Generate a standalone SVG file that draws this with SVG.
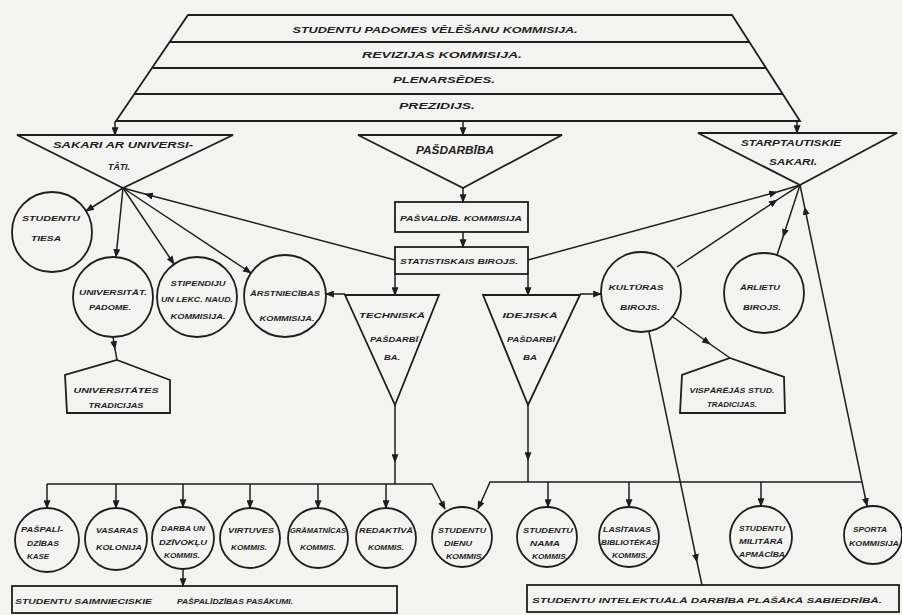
<svg xmlns="http://www.w3.org/2000/svg" width="902" height="615" viewBox="0 0 902 615">
<defs>
<marker id="ah" viewBox="0 0 10 8" refX="9" refY="4" markerWidth="9" markerHeight="7" orient="auto" markerUnits="userSpaceOnUse"><path d="M0,0 L10,4 L0,8 z" fill="#1e1e1e"/></marker>
<style>
.sh{fill:none;stroke:#1e1e1e;stroke-width:1.8}
.ln{fill:none;stroke:#1e1e1e;stroke-width:1.5}
.ae{marker-end:url(#ah)}
.am{marker-mid:url(#ah)}
text{font-family:"Liberation Sans",Arial,sans-serif;font-weight:bold;font-style:italic;fill:#1e1e1e;text-anchor:middle;font-size:8px}
.s9{font-size:9px}
.s10{font-size:10px}
.s6{font-size:6.5px}
.st{text-anchor:start}
</style>
</defs>
<rect x="0" y="0" width="902" height="615" fill="#f3f3f1"/>

<g id="council">
<polygon class="sh" points="188,15 732,15 800,121 116,121"/>
<line class="sh" x1="170" y1="42" x2="749" y2="42"/>
<line class="sh" x1="153" y1="68" x2="766" y2="68"/>
<line class="sh" x1="135" y1="94" x2="783" y2="94"/>
<text class="s9" x="435" y="33" textLength="285" lengthAdjust="spacingAndGlyphs">STUDENTU PADOMES VĒLĒŠANU KOMMISIJA.</text>
<text class="s9" x="442" y="58" textLength="160" lengthAdjust="spacingAndGlyphs">REVIZIJAS KOMMISIJA.</text>
<text class="s9" x="444" y="83" textLength="102" lengthAdjust="spacingAndGlyphs">PLENARSĒDES.</text>
<text class="s9" x="437" y="109" textLength="76" lengthAdjust="spacingAndGlyphs">PREZIDIJS.</text>
</g>

<g id="sakari-univ">
<polygon class="sh" points="17,135 233,135 123,188"/>
<text class="s9" x="123" y="148" textLength="140" lengthAdjust="spacingAndGlyphs">SAKARI AR UNIVERSI-</text>
<text class="s9" x="119" y="170" textLength="22" lengthAdjust="spacingAndGlyphs">TĀTI.</text>
</g>

<g id="pasdarbiba">
<polygon class="sh" points="358,135 562,135 463,188"/>
<text class="s10" x="455" y="154" textLength="78" lengthAdjust="spacingAndGlyphs">PAŠDARBĪBA</text>
</g>

<g id="starptautiskie">
<polygon class="sh" points="698,133 897,133 800,185"/>
<text class="s9" x="791" y="146" textLength="100" lengthAdjust="spacingAndGlyphs">STARPTAUTISKIE</text>
<text class="s9" x="793" y="165" textLength="48" lengthAdjust="spacingAndGlyphs">SAKARI.</text>
</g>

<g id="pasvaldib">
<rect class="sh" x="395" y="202" width="133" height="30"/>
<text x="461" y="221" textLength="122" lengthAdjust="spacingAndGlyphs">PAŠVALDĪB. KOMMISIJA</text>
</g>

<g id="statistiskais">
<rect class="sh" x="395" y="247" width="133" height="27"/>
<text x="459" y="264" textLength="118" lengthAdjust="spacingAndGlyphs">STATISTISKAIS BIROJS.</text>
</g>

<g id="studentu-tiesa">
<circle class="sh" cx="52" cy="232" r="40"/>
<text x="51" y="221" textLength="58" lengthAdjust="spacingAndGlyphs">STUDENTU</text>
<text x="46" y="241" textLength="30" lengthAdjust="spacingAndGlyphs">TIESA</text>
</g>

<g id="univ-padome">
<circle class="sh" cx="113" cy="297" r="40"/>
<text x="113" y="295" textLength="68" lengthAdjust="spacingAndGlyphs">UNIVERSITĀT.</text>
<text x="110" y="310" textLength="42" lengthAdjust="spacingAndGlyphs">PADOME.</text>
</g>

<g id="stipendiju">
<circle class="sh" cx="197" cy="297" r="40"/>
<text x="198" y="286" textLength="55" lengthAdjust="spacingAndGlyphs">STIPENDIJU</text>
<text x="197" y="302" textLength="72" lengthAdjust="spacingAndGlyphs">UN LEKC. NAUD.</text>
<text x="198" y="319" textLength="55" lengthAdjust="spacingAndGlyphs">KOMMISIJA.</text>
</g>

<g id="arstniecibas">
<circle class="sh" cx="285" cy="296" r="41"/>
<text x="285" y="296" textLength="70" lengthAdjust="spacingAndGlyphs">ĀRSTNIECĪBAS</text>
<text x="287" y="321" textLength="55" lengthAdjust="spacingAndGlyphs">KOMMISIJA.</text>
</g>

<g id="techniska">
<polygon class="sh" points="345,295 439,295 395,405"/>
<text x="392" y="318" textLength="66" lengthAdjust="spacingAndGlyphs">TECHNISKĀ</text>
<text x="394" y="342" textLength="48" lengthAdjust="spacingAndGlyphs">PAŠDARBĪ</text>
<text x="392" y="360" textLength="16" lengthAdjust="spacingAndGlyphs">BA.</text>
</g>

<g id="idejiska">
<polygon class="sh" points="483,295 580,295 528,405"/>
<text x="530" y="318" textLength="55" lengthAdjust="spacingAndGlyphs">IDEJISKĀ</text>
<text x="531" y="342" textLength="48" lengthAdjust="spacingAndGlyphs">PAŠDARBĪ</text>
<text x="530" y="360" textLength="14" lengthAdjust="spacingAndGlyphs">BA</text>
</g>

<g id="kulturas">
<circle class="sh" cx="641" cy="292" r="40"/>
<text x="636" y="290" textLength="55" lengthAdjust="spacingAndGlyphs">KULTŪRAS</text>
<text x="640" y="310" textLength="40" lengthAdjust="spacingAndGlyphs">BIROJS.</text>
</g>

<g id="arlietu">
<circle class="sh" cx="764" cy="293" r="40"/>
<text x="760" y="290" textLength="40" lengthAdjust="spacingAndGlyphs">ĀRLIETU</text>
<text x="762" y="310" textLength="38" lengthAdjust="spacingAndGlyphs">BIROJS.</text>
</g>

<g id="univ-tradicijas">
<polygon class="sh" points="117,360 170,380 170,413 67,413 65,375"/>
<text x="116" y="393" textLength="85" lengthAdjust="spacingAndGlyphs">UNIVERSITĀTES</text>
<text x="116" y="408" textLength="55" lengthAdjust="spacingAndGlyphs">TRADICIJAS</text>
</g>

<g id="visparejas">
<polygon class="sh" points="730,358 784,377 785,413 680,413 682,375"/>
<text x="732" y="393" textLength="85" lengthAdjust="spacingAndGlyphs">VISPĀRĒJĀS STUD.</text>
<text x="732" y="407" textLength="50" lengthAdjust="spacingAndGlyphs">TRADICIJAS.</text>
</g>

<g id="paspalidzibas-kase">
<circle class="sh" cx="47" cy="540" r="32"/>
<text class="s6" x="42" y="532" textLength="42" lengthAdjust="spacingAndGlyphs">PAŠPALĪ-</text>
<text class="s6" x="43" y="546" textLength="32" lengthAdjust="spacingAndGlyphs">DZĪBAS</text>
<text class="s6" x="38" y="559" textLength="22" lengthAdjust="spacingAndGlyphs">KASE</text>
</g>
<g id="vasaras-kolonija">
<circle class="sh" cx="116" cy="539" r="31"/>
<text class="s6" x="117" y="533" textLength="42" lengthAdjust="spacingAndGlyphs">VASARAS</text>
<text class="s6" x="119" y="550" textLength="46" lengthAdjust="spacingAndGlyphs">KOLONIJA</text>
</g>
<g id="darba-dzivoklu">
<circle class="sh" cx="183" cy="538" r="31"/>
<text class="s6" x="183" y="531" textLength="44" lengthAdjust="spacingAndGlyphs">DARBA UN</text>
<text class="s6" x="183" y="545" textLength="48" lengthAdjust="spacingAndGlyphs">DZĪVOKĻU</text>
<text class="s6" x="182" y="558" textLength="36" lengthAdjust="spacingAndGlyphs">KOMMIS.</text>
</g>
<g id="virtuves">
<circle class="sh" cx="250" cy="538" r="30"/>
<text class="s6" x="251" y="533" textLength="46" lengthAdjust="spacingAndGlyphs">VIRTUVES</text>
<text class="s6" x="249" y="550" textLength="36" lengthAdjust="spacingAndGlyphs">KOMMIS.</text>
</g>
<g id="gramatnicas">
<circle class="sh" cx="318" cy="538" r="30"/>
<text class="s6" x="318" y="533" textLength="56" lengthAdjust="spacingAndGlyphs">GRĀMATNĪCAS</text>
<text class="s6" x="318" y="550" textLength="36" lengthAdjust="spacingAndGlyphs">KOMMIS.</text>
</g>
<g id="redaktiva">
<circle class="sh" cx="386" cy="538" r="30"/>
<text class="s6" x="386" y="533" textLength="54" lengthAdjust="spacingAndGlyphs">REDAKTĪVĀ</text>
<text class="s6" x="386" y="550" textLength="36" lengthAdjust="spacingAndGlyphs">KOMMIS.</text>
</g>
<g id="studentu-dienu">
<circle class="sh" cx="462" cy="537" r="30"/>
<text class="s6" x="462" y="533" textLength="48" lengthAdjust="spacingAndGlyphs">STUDENTU</text>
<text class="s6" x="458" y="546" textLength="28" lengthAdjust="spacingAndGlyphs">DIENU</text>
<text class="s6" x="465" y="559" textLength="38" lengthAdjust="spacingAndGlyphs">KOMMIS.</text>
</g>
<g id="studentu-nama">
<circle class="sh" cx="547" cy="537" r="30"/>
<text class="s6" x="548" y="533" textLength="50" lengthAdjust="spacingAndGlyphs">STUDENTU</text>
<text class="s6" x="545" y="546" textLength="30" lengthAdjust="spacingAndGlyphs">NAMA</text>
<text class="s6" x="550" y="559" textLength="36" lengthAdjust="spacingAndGlyphs">KOMMIS.</text>
</g>
<g id="lasitavas">
<circle class="sh" cx="629" cy="537" r="30"/>
<text class="s6" x="627" y="532" textLength="48" lengthAdjust="spacingAndGlyphs">LASĪTAVAS</text>
<text class="s6" x="629" y="545" textLength="56" lengthAdjust="spacingAndGlyphs">BIBLIOTĒKAS</text>
<text class="s6" x="630" y="558" textLength="36" lengthAdjust="spacingAndGlyphs">KOMMIS.</text>
</g>
<g id="militara">
<circle class="sh" cx="761" cy="537" r="31"/>
<text class="s6" x="762" y="531" textLength="46" lengthAdjust="spacingAndGlyphs">STUDENTU</text>
<text class="s6" x="761" y="544" textLength="44" lengthAdjust="spacingAndGlyphs">MILITĀRĀ</text>
<text class="s6" x="762" y="557" textLength="46" lengthAdjust="spacingAndGlyphs">APMĀCĪBA</text>
</g>
<g id="sporta">
<circle class="sh" cx="873" cy="535" r="29"/>
<text class="s6" x="870" y="532" textLength="34" lengthAdjust="spacingAndGlyphs">SPORTA</text>
<text class="s6" x="874" y="546" textLength="50" lengthAdjust="spacingAndGlyphs">KOMMISIJA</text>
</g>

<g id="saimnieciskie">
<rect class="sh" x="12" y="586" width="385" height="27"/>
<text class="st" x="15" y="604" textLength="137" lengthAdjust="spacingAndGlyphs">STUDENTU SAIMNIECISKIE</text>
<text class="st" x="177" y="604" textLength="116" lengthAdjust="spacingAndGlyphs">PAŠPALĪDZĪBAS PASĀKUMI.</text>
</g>
<g id="intelektuala">
<rect class="sh" x="527" y="585" width="372" height="27"/>
<text class="st" x="532" y="603" textLength="350" lengthAdjust="spacingAndGlyphs">STUDENTU INTELEKTUĀLĀ DARBĪBA PLAŠĀKĀ SABIEDRĪBĀ.</text>
</g>

<g id="connectors">
<path class="ln ae" d="M115,121 L115,135"/>
<path class="ln ae" d="M463,121 L463,135"/>
<path class="ln ae" d="M797,121 L797,133"/>
<path class="ln ae" d="M123,188 L86,211"/>
<path class="ln ae" d="M123,188 L116,257"/>
<path class="ln ae" d="M123,188 L174,264"/>
<path class="ln ae" d="M123,188 L251,273"/>
<path class="ln am" d="M395,260 L145,194 L123,188"/>
<path class="ln ae" d="M463,188 L463,202"/>
<path class="ln ae" d="M463,232 L463,247"/>
<path class="ln ae" d="M395,274 L395,295"/>
<path class="ln ae" d="M528,274 L528,295"/>
<path class="ln ae" d="M345,294 L326,294"/>
<path class="ln ae" d="M580,294 L601,294"/>
<path class="ln am" d="M528,260 L777,192 L800,185"/>
<path class="ln am" d="M677,267 L777,200 L800,185"/>
<path class="ln am" d="M800,185 L783,237 L777,255"/>
<path class="ln am" d="M862,482 L804.6,207 L800,185"/>
<path class="ln ae" d="M862,482 L867,506"/>
<path class="ln am" d="M673,317 L710,344 L730,358"/>
<path class="ln am" d="M649,332 L697,562 L702,585"/>
<path class="ln am" d="M113,337 L115,349 L117,360"/>
<path class="ln am" d="M395,405 L395,462 L395,484"/>
<path class="ln ae" d="M47,484 L432,484 L445,509"/>
<path class="ln ae" d="M47,484 L47,508"/>
<path class="ln ae" d="M116,484 L116,508"/>
<path class="ln ae" d="M183,484 L183,507"/>
<path class="ln ae" d="M250,484 L250,508"/>
<path class="ln ae" d="M318,484 L318,508"/>
<path class="ln ae" d="M386,484 L386,508"/>
<path class="ln ae" d="M183,569 L183,586"/>
<path class="ln am" d="M528,405 L528,460 L528,482"/>
<path class="ln ae" d="M862,482 L490,482 L478,509"/>
<path class="ln ae" d="M548,482 L548,507"/>
<path class="ln ae" d="M629,482 L629,507"/>
<path class="ln ae" d="M761,482 L761,506"/>
</g>
</svg>
